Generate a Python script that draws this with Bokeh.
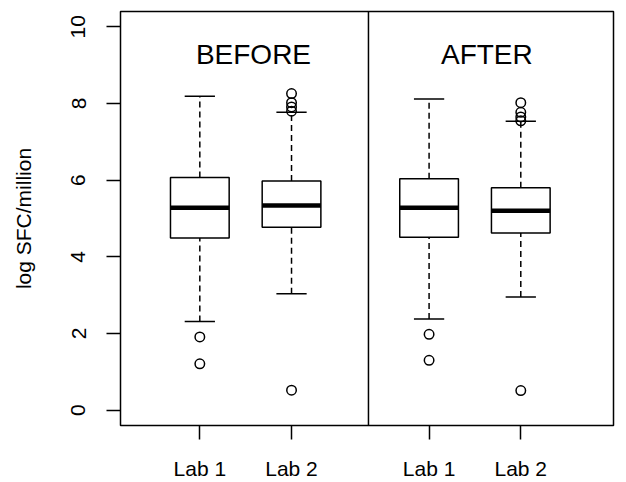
from bokeh.plotting import figure
from bokeh.models import Range1d, FixedTicker, Span, Label
from bokeh.embed import file_html
from bokeh.resources import INLINE

# ---- data ----
groups = ["BEFORE", "AFTER"]
labs = ["Lab 1", "Lab 2"]
box_group = ["BEFORE", "BEFORE", "AFTER", "AFTER"]
box_lab = ["Lab 1", "Lab 2", "Lab 1", "Lab 2"]
lower_whisker = [2.31, 3.04, 2.38, 2.95]
q1 = [4.49, 4.77, 4.51, 4.62]
median = [5.28, 5.34, 5.28, 5.20]
q3 = [6.07, 5.98, 6.04, 5.80]
upper_whisker = [8.19, 7.77, 8.12, 7.54]
outliers = [
    [1.91, 1.21],
    [8.26, 8.02, 7.91, 7.80, 0.52],
    [1.98, 1.30],
    [8.02, 7.77, 7.65, 7.55, 0.51],
]
y_ticks = [0, 2, 4, 6, 8, 10]
y_label = "log SFC/million"

# ---- layout ----
GAP = 2.5
pos = [groups.index(g) * GAP + labs.index(l) + 1 for g, l in zip(box_group, box_lab)]
HW = 0.32   # half box width
CW = 0.165  # half cap width
TITLE_X = [1.585, 4.13]
TITLE_Y = 9.28
DIVIDER_X = 2.839

p = figure(width=626, height=482, output_backend="svg", toolbar_location=None,
           x_range=Range1d(0.135, 5.511), y_range=Range1d(-0.4, 10.4),
           min_border_left=120, min_border_right=13, min_border_top=11,
           min_border_bottom=55)
p.grid.visible = False
p.outline_line_color = "black"
p.outline_line_width = 1.5
p.background_fill_color = "white"
p.border_fill_color = "white"

FONT = "Liberation Sans"
for ax in (p.xaxis[0], p.yaxis[0]):
    ax.axis_line_color = None
    ax.major_tick_out = 14
    ax.major_tick_in = 0
    ax.minor_tick_out = 0
    ax.minor_tick_in = 0
    ax.major_tick_line_color = "black"
    ax.major_tick_line_width = 1.5
    ax.major_label_text_font = FONT
    ax.major_label_text_font_size = "21px"
    ax.major_label_text_color = "black"

p.xaxis.ticker = FixedTicker(ticks=sorted(set(pos)))
p.xaxis.major_label_overrides = {x: l for x, l in zip(pos, box_lab)}
p.xaxis.major_label_standoff = 17

p.yaxis.ticker = FixedTicker(ticks=y_ticks)
p.yaxis.major_label_orientation = "vertical"
p.yaxis.major_label_standoff = 21
p.yaxis.axis_label = y_label
p.yaxis.axis_label_text_font = FONT
p.yaxis.axis_label_text_font_size = "21px"
p.yaxis.axis_label_text_font_style = "normal"
p.yaxis.axis_label_text_color = "black"
p.yaxis.axis_label_standoff = 34

# whiskers (dashed)
p.segment(x0=pos, x1=pos, y0=q3, y1=upper_whisker, line_color="black",
          line_width=1.5, line_dash="6 4")
p.segment(x0=pos, x1=pos, y0=lower_whisker, y1=q1, line_color="black",
          line_width=1.5, line_dash="6 4")
# caps
p.segment(x0=[x - CW for x in pos], x1=[x + CW for x in pos],
          y0=upper_whisker, y1=upper_whisker, line_color="black", line_width=1.5)
p.segment(x0=[x - CW for x in pos], x1=[x + CW for x in pos],
          y0=lower_whisker, y1=lower_whisker, line_color="black", line_width=1.5)
# boxes
p.quad(left=[x - HW for x in pos], right=[x + HW for x in pos], bottom=q1, top=q3,
       fill_color="white", line_color="black", line_width=1.5)
# medians
p.segment(x0=[x - HW for x in pos], x1=[x + HW for x in pos], y0=median, y1=median,
          line_color="black", line_width=4.5, line_cap="butt")
# outliers
ox, oy = [], []
for x, vals in zip(pos, outliers):
    for v in vals:
        ox.append(x)
        oy.append(v)
p.scatter(ox, oy, marker="circle", size=9.5, fill_color=None, line_color="black",
          line_width=1.5)

# group divider and titles
p.add_layout(Span(location=DIVIDER_X, dimension="height", line_color="black",
                  line_width=1.5))
for tx, g in zip(TITLE_X, groups):
    p.add_layout(Label(x=tx, y=TITLE_Y, text=g, text_align="center",
                       text_baseline="alphabetic", text_font=FONT,
                       text_font_size="28px", text_color="black"))

open("out.html", "w").write(file_html(p, INLINE))
